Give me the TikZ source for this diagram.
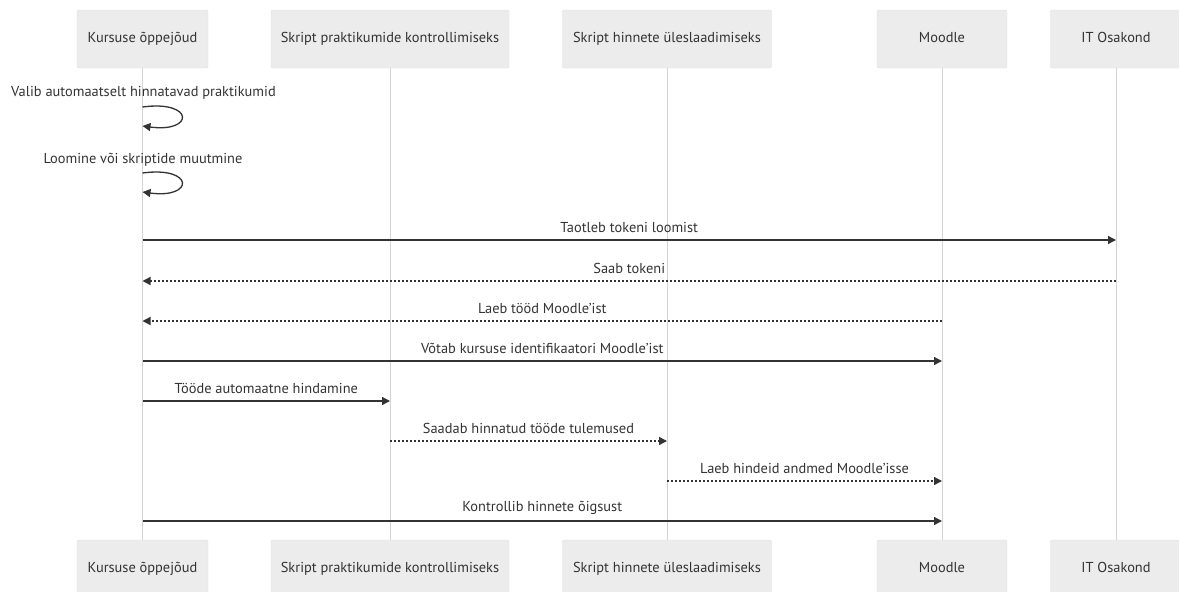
\documentclass[tikz,border=0pt]{standalone}
\usepackage{fontspec}
\setmainfont{PT Sans}
\usetikzlibrary{arrows.meta}
\definecolor{boxfill}{HTML}{ECECEC}
\definecolor{boxline}{HTML}{DDDDDD}
\definecolor{lifeline}{HTML}{D3D3D3}
\definecolor{msgline}{HTML}{333333}
\definecolor{txt}{HTML}{333333}
\begin{document}
\begin{tikzpicture}[x=1pt,y=-1pt,
  font=\fontsize{14.4}{16}\selectfont,
  actor/.style={draw=boxline, fill=boxfill, rounded corners=2pt, minimum height=58pt, inner sep=0pt, text height=10pt, text depth=3pt, text=txt},
  life/.style={draw=lifeline, line width=1pt},
  msg/.style={draw=msgline, line width=1.3pt, -{Triangle[length=8pt,width=8pt]}},
  reply/.style={msg, dash pattern=on 2pt off 2pt},
  lbl/.style={text=txt, yshift=13pt}]
\useasboundingbox (0,0) rectangle (1179,592);
\node[actor, minimum width=131pt] (kt) at (142.5,39) {Kursuse õppejõud};
\node[actor, minimum width=238pt] (pt) at (390,39) {Skript praktikumide kontrollimiseks};
\node[actor, minimum width=209pt] (ht) at (667,39) {Skript hinnete üleslaadimiseks};
\node[actor, minimum width=130pt] (mt) at (942,39) {Moodle};
\node[actor, minimum width=131pt] (it) at (1116,39) {IT Osakond};
\node[actor, minimum width=131pt] (kb) at (142.5,569) {Kursuse õppejõud};
\node[actor, minimum width=238pt] (pb) at (390,569) {Skript praktikumide kontrollimiseks};
\node[actor, minimum width=209pt] (hb) at (667,569) {Skript hinnete üleslaadimiseks};
\node[actor, minimum width=130pt] (mb) at (942,569) {Moodle};
\node[actor, minimum width=131pt] (ib) at (1116,569) {IT Osakond};
\foreach \a/\b in {kt/kb,pt/pb,ht/hb,mt/mb,it/ib}
  \draw[life] (\a) -- (\b);
\coordinate (l1a) at (0,107);
\coordinate (l1b) at (0,126);
\coordinate (l2a) at (0,173);
\coordinate (l2b) at (0,192);
\foreach \i/\y in {3/240,4/281,5/321,6/361,7/401,8/441,9/481,10/521}
  \coordinate (r\i) at (0,\y);
\node[text=txt] (s1) at (143.5,93) {Valib automaatselt hinnatavad praktikumid};
\draw[msg] (kt |- l1a) .. controls +(52,-7) and +(52,7) .. (kt |- l1b);
\node[text=txt] (s2) at (143,160) {Loomine või skriptide muutmine};
\draw[msg] (kt |- l2a) .. controls +(52,-7) and +(52,7) .. (kt |- l2b);
\draw[msg] (kt |- r3) -- (it |- r3) node[lbl, midway] {Taotleb tokeni loomist};
\draw[reply] (it |- r4) -- (kt |- r4) node[lbl, midway] {Saab tokeni};
\draw[reply] (mt |- r5) -- (kt |- r5) node[lbl, midway] {Laeb tööd Moodle'ist};
\draw[msg] (kt |- r6) -- (mt |- r6) node[lbl, midway] {Võtab kursuse identifikaatori Moodle'ist};
\draw[msg] (kt |- r7) -- (pt |- r7) node[lbl, midway] {Tööde automaatne hindamine};
\draw[reply] (pt |- r8) -- (ht |- r8) node[lbl, midway] {Saadab hinnatud tööde tulemused};
\draw[reply] (ht |- r9) -- (mt |- r9) node[lbl, midway] {Laeb hindeid andmed Moodle'isse};
\draw[msg] (kt |- r10) -- (mt |- r10) node[lbl, midway] {Kontrollib hinnete õigsust};
\end{tikzpicture}
\end{document}
